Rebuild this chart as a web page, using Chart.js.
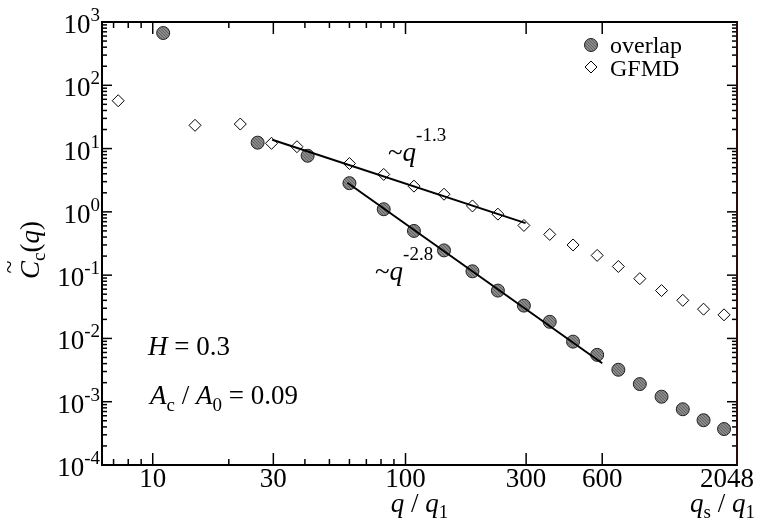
<!DOCTYPE html>
<html><head><meta charset="utf-8">
<script src="https://cdn.jsdelivr.net/npm/chart.js@4/dist/chart.umd.min.js"></script>
<style>html,body{margin:0;padding:0;background:#fff;overflow:hidden}#wrap{width:766px;height:525px}</style>
</head><body><div id="wrap"><canvas id="c" width="766" height="525" style="width:766px;height:525px"></canvas></div>
<script>
// ---- data ----
const overlapQ = [11, 26, 41, 60, 82, 108, 142, 184, 232, 294, 372, 460, 573, 695, 845, 1030, 1250, 1510, 1820];
const overlapC = [670, 12.4, 7.7, 2.84, 1.1, 0.50, 0.246, 0.115, 0.057, 0.033, 0.0183, 0.0089, 0.0055, 0.0032, 0.0019, 0.0012, 0.00076, 0.00051, 0.00037];
const gfmdQ = [7.3, 14.7, 22.2, 29.5, 37.2, 60, 82, 108, 142, 184, 232, 294, 372, 460, 573, 695, 845, 1030, 1250, 1510, 1820];
const gfmdC = [57, 23.3, 24.4, 12.1, 10.7, 5.8, 3.9, 2.55, 1.9, 1.24, 0.92, 0.61, 0.44, 0.30, 0.205, 0.137, 0.088, 0.057, 0.040, 0.029, 0.0236];
const fit13Q = [29.7, 298.5];
const fit13C = [13.8, 0.664];
const fit28Q = [58.9, 600];
const fit28C = [2.88, 0.00405];
const xMajorTicks = [10, 30, 100, 300, 600, 2048];
const xTickLabels = ['10', '30', '100', '300', '600', '2048'];
const xMinorTicks = [7, 8, 9, 20, 40, 50, 60, 70, 80, 90];
const yExponents = [-4, -3, -2, -1, 0, 1, 2, 3];
const yTickLabels = ['-4', '-3', '-2', '-1', '0', '1', '2', '3'];
const yMinorMult = [2, 3, 4, 5, 6, 7, 8, 9];
const xMin = 6.3, xMax = 2048, yMin = 1e-4, yMax = 1e3;

const FAM = '"Liberation Serif", "Times New Roman", serif';
const F = '27px ' + FAM, FI = 'italic 27px ' + FAM, FS = '19px ' + FAM;
const FL = '24px ' + FAM;

const canvas = document.getElementById('c');
const ctx0 = canvas.getContext('2d');
const pc = document.createElement('canvas'); pc.width = 3; pc.height = 3;
const pctx = pc.getContext('2d');
pctx.fillStyle = '#8a8a8a'; pctx.fillRect(0, 0, 3, 3);
pctx.fillStyle = '#626262'; pctx.fillRect(0, 0, 1, 1); pctx.fillRect(1, 1, 1, 1); pctx.fillRect(2, 2, 1, 1);
const hatch = ctx0.createPattern(pc, 'repeat');

const pts = (xs, ys) => xs.map((x, i) => ({x: x, y: ys[i]}));

function rich(ctx, x, y, parts, align) {
  let w = 0;
  for (const p of parts) { ctx.font = p[1]; w += ctx.measureText(p[0]).width; }
  let cx = align === 'right' ? x - w : (align === 'center' ? x - w / 2 : x);
  const start = cx;
  for (const p of parts) { ctx.font = p[1]; ctx.fillText(p[0], cx, y + (p[2] || 0)); cx += ctx.measureText(p[0]).width; }
  return start;
}
function seg(ctx, x1, y1, x2, y2) { ctx.beginPath(); ctx.moveTo(x1, y1); ctx.lineTo(x2, y2); ctx.stroke(); }

const framePlugin = {
  id: 'frame',
  beforeDatasetsDraw(chart) {
    const ctx = chart.ctx, xs = chart.scales.x, ys = chart.scales.y, a = chart.chartArea;
    ctx.save();
    ctx.strokeStyle = '#000'; ctx.lineWidth = 1.5;
    for (const v of xMinorTicks) { const p = xs.getPixelForValue(v); seg(ctx, p, a.bottom, p, a.bottom - 6); seg(ctx, p, a.top, p, a.top + 6); }
    for (const v of xMajorTicks) { const p = xs.getPixelForValue(v); seg(ctx, p, a.bottom, p, a.bottom - 12); seg(ctx, p, a.top, p, a.top + 12); }
    for (const e of yExponents) {
      const p = ys.getPixelForValue(Math.pow(10, e));
      seg(ctx, a.left, p, a.left + 10, p); seg(ctx, a.right, p, a.right - 10, p);
      if (e < 3) for (const m of yMinorMult) {
        const q = ys.getPixelForValue(m * Math.pow(10, e));
        seg(ctx, a.left, q, a.left + 5, q); seg(ctx, a.right, q, a.right - 5, q);
      }
    }
    ctx.lineWidth = 2;
    ctx.strokeRect(a.left, a.top, a.right - a.left, a.bottom - a.top);
    ctx.strokeStyle = '#2a0a0a';
    seg(ctx, a.right, a.top, a.right, a.bottom);
    ctx.restore();
  },
  afterDraw(chart) {
    const ctx = chart.ctx, xs = chart.scales.x, ys = chart.scales.y, a = chart.chartArea;
    ctx.save();
    ctx.fillStyle = '#000'; ctx.textBaseline = 'alphabetic'; ctx.textAlign = 'left';
    // x tick labels
    xMajorTicks.forEach((v, i) => {
      const px = Math.min(xs.getPixelForValue(v), 727);
      rich(ctx, px, a.bottom + 22, [[xTickLabels[i], F]], 'center');
    });
    // y tick labels
    yExponents.forEach((e, i) => {
      const p = ys.getPixelForValue(Math.pow(10, e));
      rich(ctx, a.left - 2, p + 11, [['10', F], [yTickLabels[i], FS, -12]], 'right');
    });
    // axis titles
    rich(ctx, (a.left + a.right) / 2, 512, [['q', FI], [' / ', F], ['q', FI], ['1', FS, 6]], 'center');
    rich(ctx, 690, 512, [['q', FI], ['s', FS, 6], [' / ', F], ['q', FI], ['1', FS, 6]], 'left');
    ctx.save();
    ctx.translate(39, 250); ctx.rotate(-Math.PI / 2);
    const sx = rich(ctx, 0, 0, [['C', FI], ['c', FS, 6], ['(', F], ['q', FI], [')', F]], 'center');
    ctx.font = FI; const cw = ctx.measureText('C').width;
    ctx.font = '24px ' + FAM; ctx.textAlign = 'center';
    ctx.fillText('~', sx + cw / 2 + 3, -22);
    ctx.restore();
    ctx.textAlign = 'left';
    // annotations
    rich(ctx, 388, 161, [['~', F], ['q', FI], ['-1.3', FS, -20]], 'left');
    rich(ctx, 375, 280, [['~', F], ['q', FI], ['-2.8', FS, -20]], 'left');
    rich(ctx, 148, 355, [['H', FI], [' = 0.3', F]], 'left');
    rich(ctx, 150, 404, [['A', FI], ['c', FS, 7], [' / ', F], ['A', FI], ['0', FS, 7], [' = 0.09', F]], 'left');
    // legend
    ctx.lineWidth = 1; ctx.strokeStyle = '#222';
    ctx.fillStyle = hatch; ctx.beginPath(); ctx.arc(591, 45, 6.5, 0, Math.PI * 2); ctx.fill(); ctx.stroke();
    ctx.fillStyle = '#fff'; ctx.strokeStyle = '#000'; ctx.beginPath();
    ctx.moveTo(591, 61); ctx.lineTo(597, 67); ctx.lineTo(591, 73); ctx.lineTo(585, 67); ctx.closePath(); ctx.fill(); ctx.stroke();
    ctx.fillStyle = '#000';
    rich(ctx, 610, 53, [['overlap', FL]], 'left');
    rich(ctx, 610, 76, [['GFMD', FL]], 'left');
    ctx.restore();
  }
};

new Chart(canvas, {
  type: 'scatter',
  data: {
    datasets: [
      {label: 'fit13', data: pts(fit13Q, fit13C), showLine: true, borderColor: '#000', borderWidth: 2, pointRadius: 0, fill: false, order: 0},
      {label: 'fit28', data: pts(fit28Q, fit28C), showLine: true, borderColor: '#000', borderWidth: 2, pointRadius: 0, fill: false, order: 0},
      {label: 'overlap', data: pts(overlapQ, overlapC), pointStyle: 'circle', pointRadius: 6.5, backgroundColor: hatch, borderColor: '#222', borderWidth: 1, order: 1},
      {label: 'GFMD', data: pts(gfmdQ, gfmdC), pointStyle: 'rectRot', pointRadius: 6, backgroundColor: '#fff', borderColor: '#000', borderWidth: 1, order: 2}
    ]
  },
  options: {
    responsive: false, animation: false, events: [], devicePixelRatio: 1,
    layout: {padding: {left: 102, right: 29, top: 22, bottom: 60}},
    scales: {
      x: {type: 'logarithmic', min: xMin, max: xMax, display: false},
      y: {type: 'logarithmic', min: yMin, max: yMax, display: false}
    },
    plugins: {legend: {display: false}, tooltip: {enabled: false}}
  },
  plugins: [framePlugin]
});
</script>
</body></html>
